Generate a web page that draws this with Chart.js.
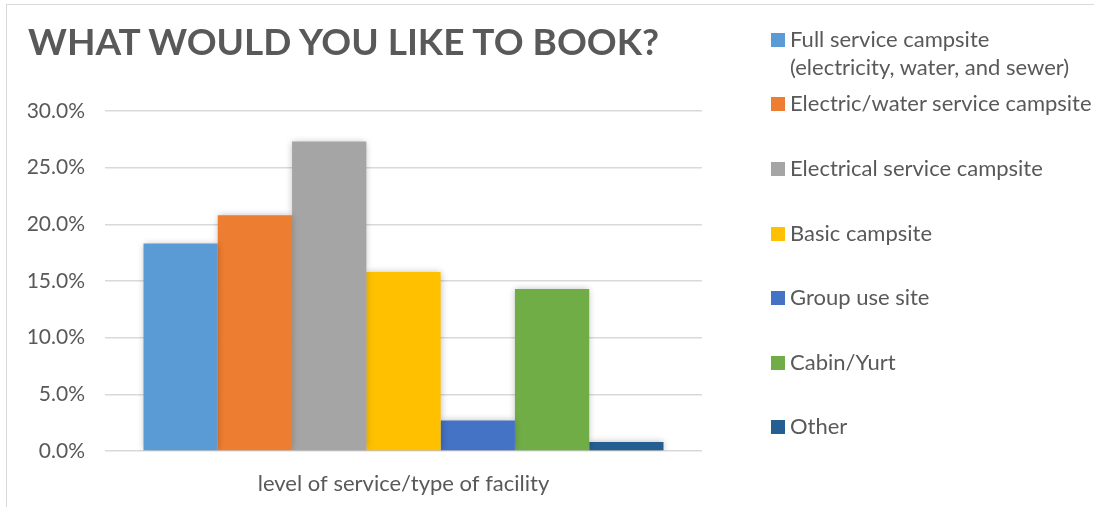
<!DOCTYPE html>
<html>
<head>
<meta charset="utf-8">
<script src="https://cdn.jsdelivr.net/npm/chart.js@4.4.1/dist/chart.umd.min.js"></script>
<style>
  html, body { margin: 0; padding: 0; background: #fff; }
  #wrap { position: relative; width: 1094px; height: 507px; overflow: hidden; font-family: Lato, "Open Sans", sans-serif; }
  #frame { position: absolute; left: 6px; top: 4px; width: 1200px; height: 600px; border: 1.5px solid #d9d9d9; }
  #title { position: absolute; left: 28px; top: 18px; font-size: 37px; font-weight: bold; color: #595959; white-space: nowrap; }
  #chart { position: absolute; left: 0; top: 0; }
  #legend { position: absolute; left: 771px; top: 0; color: #595959; font-size: 22px; }
  .item { position: absolute; left: 0; white-space: nowrap; }
  .box { position: absolute; left: 0; width: 14px; height: 14px; }
  .txt { position: absolute; left: 19px; line-height: 28px; }
</style>
</head>
<body>
<div id="wrap">
  <div id="frame"></div>
  <canvas id="chart" width="1094" height="507"></canvas>
  <div id="title">WHAT WOULD YOU LIKE TO BOOK?</div>
  <div id="legend"></div>
</div>
<script>
// data (percent)
const category = ['level of service/type of facility'];
const seriesNames = [
    ['Full service campsite', '(electricity, water, and sewer)'],
    'Electric/water service campsite',
    'Electrical service campsite',
    'Basic campsite',
    'Group use site',
    'Cabin/Yurt',
    'Other'
];
const seriesValues = [18.3, 20.8, 27.3, 15.8, 2.7, 14.3, 0.8];
const seriesColors = ['#5B9BD5', '#ED7D31', '#A5A5A5', '#FFC000', '#4472C4', '#70AD47', '#255E91'];
const yTicks = [0, 5, 10, 15, 20, 25, 30];

// soft shadow round the bars, like the office style
const barShadow = {
    id: 'barShadow',
    beforeDatasetsDraw(chart) {
        const ctx = chart.ctx;
        ctx.save();
        ctx.shadowColor = 'rgba(0,0,0,0.28)';
        ctx.shadowBlur = 7;
    },
    afterDatasetsDraw(chart) {
        chart.ctx.restore();
    }
};

const datasets = seriesNames.map(function(name, i) {
    return {
        label: Array.isArray(name) ? name.join(' ') : name,
        data: [seriesValues[i]],
        backgroundColor: seriesColors[i],
        borderWidth: 0,
        barPercentage: 1.0,
        categoryPercentage: 0.871
    };
});

new Chart(document.getElementById('chart'), {
    type: 'bar',
    data: { labels: category, datasets: datasets },
    options: {
        responsive: false,
        animation: false,
        layout: { padding: { top: 111, right: 392, bottom: 0, left: 0 } },
        plugins: {
            legend: { display: false },
            tooltip: { enabled: false }
        },
        scales: {
            x: {
                grid: { display: false },
                border: { display: false },
                ticks: { color: '#595959', font: { family: 'Lato', size: 22 }, padding: 12 },
                afterFit: function(scale) { scale.height = 56; }
            },
            y: {
                min: 0,
                max: 30,
                afterBuildTicks: function(scale) {
                    scale.ticks = yTicks.map(function(v) { return { value: v }; });
                },
                grid: { color: '#d9d9d9', lineWidth: 1.5, drawTicks: false },
                border: { display: false },
                ticks: {
                    color: '#595959',
                    font: { family: 'Lato', size: 21 },
                    padding: 20,
                    callback: function(v) { return v.toFixed(1) + '%'; }
                },
                afterFit: function(scale) { scale.width = 105; }
            }
        }
    },
    plugins: [barShadow]
});

// legend built from the same arrays
const legendCenters = [40, 104, 169, 234, 298, 363, 427];
const legend = document.getElementById('legend');
seriesNames.forEach(function(name, i) {
    const item = document.createElement('div');
    item.className = 'item';
    item.style.top = (legendCenters[i] - 7) + 'px';
    const box = document.createElement('div');
    box.className = 'box';
    box.style.background = seriesColors[i];
    const txt = document.createElement('div');
    txt.className = 'txt';
    txt.style.top = '-8px';
    txt.innerHTML = Array.isArray(name) ? name.join('<br>') : name;
    item.appendChild(box);
    item.appendChild(txt);
    legend.appendChild(item);
});
</script>
</body>
</html>
